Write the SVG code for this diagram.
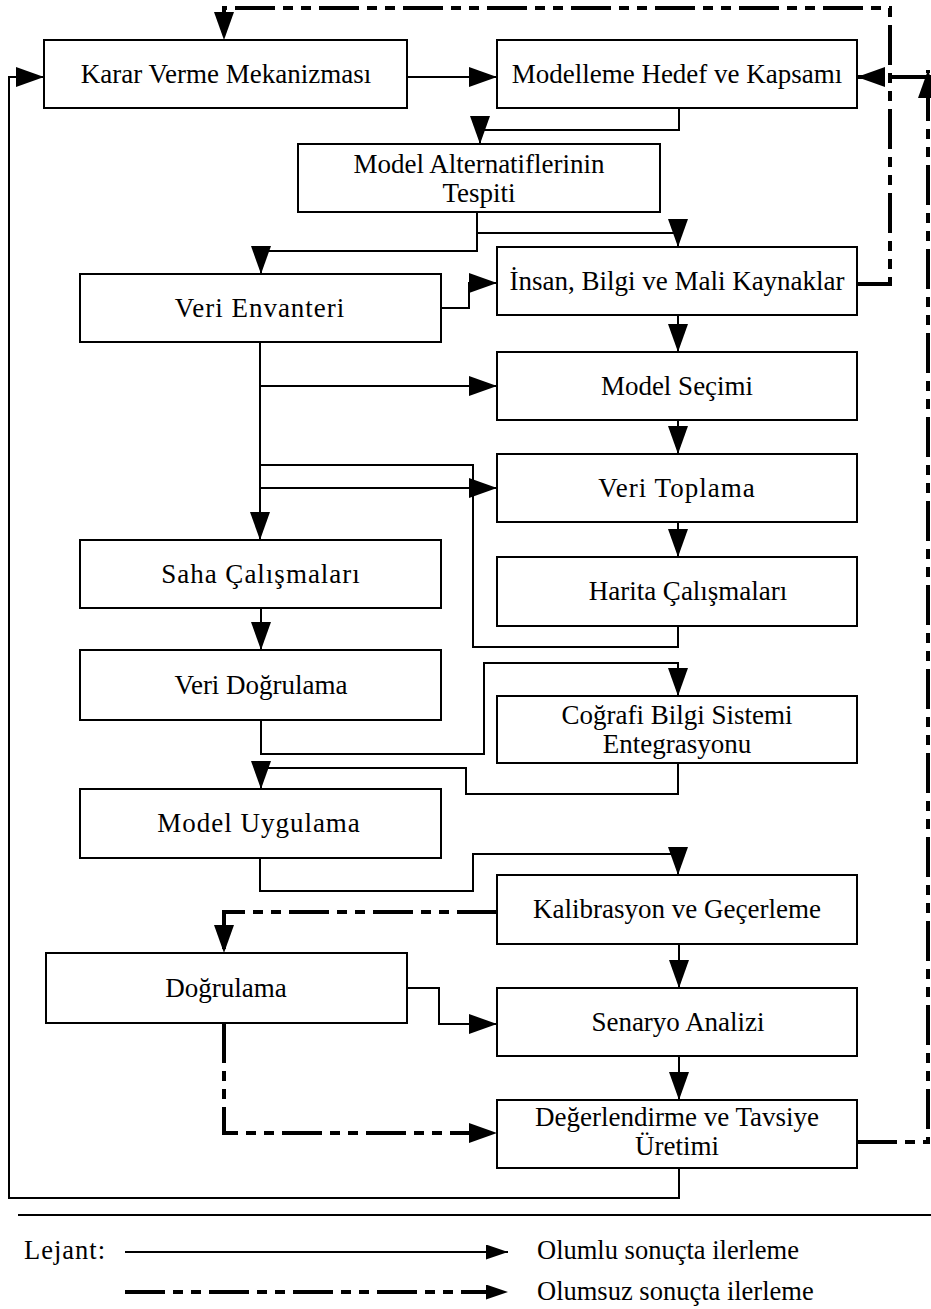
<svg xmlns="http://www.w3.org/2000/svg" width="931" height="1309" viewBox="0 0 931 1309">
<style>
.box{fill:#fff;stroke:#000;stroke-width:2}
.lbl{font-family:"Liberation Serif","Times New Roman",serif;font-size:27px;fill:#000;text-anchor:middle}
.leg{font-family:"Liberation Serif","Times New Roman",serif;font-size:26.5px;fill:#000}
.c{fill:none;stroke:#000;stroke-width:2}
.n{fill:none;stroke:#000;stroke-width:4;stroke-dasharray:40 8 10 8 10 8}
</style>
<defs>
<marker id="ah" markerUnits="userSpaceOnUse" viewBox="0 0 28 20" refX="28" refY="10" markerWidth="28" markerHeight="20" orient="auto">
<path d="M0,0 L28,10 L0,20 Z" fill="#000"/>
</marker>
<marker id="ahs" markerUnits="userSpaceOnUse" viewBox="0 0 22 15" refX="22" refY="7.5" markerWidth="22" markerHeight="15" orient="auto">
<path d="M0,0 L22,7.5 L0,15 Z" fill="#000"/>
</marker>
</defs>
<rect width="931" height="1309" fill="#fff"/>

<g id="n-karar"><rect class="box" x="44" y="40" width="363" height="68"/><text class="lbl" x="226" y="83">Karar Verme Mekanizması</text></g>
<g id="n-modelleme"><rect class="box" x="497" y="40" width="360" height="68"/><text class="lbl" x="677" y="83">Modelleme Hedef ve Kapsamı</text></g>
<g id="n-alternatif"><rect class="box" x="298" y="144" width="362" height="68"/><text class="lbl" x="479" y="173">Model Alternatiflerinin</text><text class="lbl" x="479" y="202">Tespiti</text></g>
<g id="n-insan"><rect class="box" x="497" y="247" width="360" height="68"/><text class="lbl" x="677" y="290">İnsan, Bilgi ve Mali Kaynaklar</text></g>
<g id="n-envanter"><rect class="box" x="80" y="274" width="361" height="68"/><text class="lbl" x="260" y="317" letter-spacing="1">Veri Envanteri</text></g>
<g id="n-secim"><rect class="box" x="497" y="352" width="360" height="68"/><text class="lbl" x="677" y="395">Model Seçimi</text></g>
<g id="n-toplama"><rect class="box" x="497" y="454" width="360" height="68"/><text class="lbl" x="677" y="497" letter-spacing="1">Veri Toplama</text></g>
<g id="n-saha"><rect class="box" x="80" y="540" width="361" height="68"/><text class="lbl" x="261" y="583" letter-spacing="1">Saha Çalışmaları</text></g>
<g id="n-harita"><rect class="box" x="497" y="557" width="360" height="69"/><text class="lbl" x="688" y="600">Harita Çalışmaları</text></g>
<g id="n-veridog"><rect class="box" x="80" y="650" width="361" height="70"/><text class="lbl" x="261" y="694">Veri Doğrulama</text></g>
<g id="n-cbs"><rect class="box" x="497" y="696" width="360" height="67"/><text class="lbl" x="677" y="724">Coğrafi Bilgi Sistemi</text><text class="lbl" x="677" y="753">Entegrasyonu</text></g>
<g id="n-uygulama"><rect class="box" x="80" y="789" width="361" height="69"/><text class="lbl" x="259" y="832" letter-spacing="1">Model Uygulama</text></g>
<g id="n-kalibrasyon"><rect class="box" x="497" y="875" width="360" height="69"/><text class="lbl" x="677" y="918">Kalibrasyon ve Geçerleme</text></g>
<g id="n-dogrulama"><rect class="box" x="46" y="953" width="361" height="70"/><text class="lbl" x="226" y="997">Doğrulama</text></g>
<g id="n-senaryo"><rect class="box" x="497" y="988" width="360" height="68"/><text class="lbl" x="678" y="1031">Senaryo Analizi</text></g>
<g id="n-degerlendirme"><rect class="box" x="497" y="1100" width="360" height="68"/><text class="lbl" x="677" y="1126">Değerlendirme ve Tavsiye</text><text class="lbl" x="677" y="1155">Üretimi</text></g>

<g id="connectors">
<path class="c" d="M407,77 H497" marker-end="url(#ah)"/>
<path class="c" d="M679,108 V130 H480 V144" marker-end="url(#ah)"/>
<path class="c" d="M477,212 V233 H678 V247" marker-end="url(#ah)"/>
<path class="c" d="M477,233 V251 H261 V274" marker-end="url(#ah)"/>
<path class="c" d="M441,308 H469 V283 H497" marker-end="url(#ah)"/>
<path class="c" d="M678,315 V352" marker-end="url(#ah)"/>
<path class="c" d="M260,342 V540" marker-end="url(#ah)"/>
<path class="c" d="M260,386 H497" marker-end="url(#ah)"/>
<path class="c" d="M260,488 H497" marker-end="url(#ah)"/>
<path class="c" d="M260,465 H473 V647 H678 V626"/>
<path class="c" d="M678,420 V454" marker-end="url(#ah)"/>
<path class="c" d="M678,522 V557" marker-end="url(#ah)"/>
<path class="c" d="M261,608 V650" marker-end="url(#ah)"/>
<path class="c" d="M261,720 V754 H484 V663 H678 V696" marker-end="url(#ah)"/>
<path class="c" d="M678,763 V794 H466 V768 H261 V789" marker-end="url(#ah)"/>
<path class="c" d="M260,858 V891 H473 V854 H678 V875" marker-end="url(#ah)"/>
<path class="c" d="M679,944 V988" marker-end="url(#ah)"/>
<path class="c" d="M407,988 H439 V1024 H497" marker-end="url(#ah)"/>
<path class="c" d="M679,1056 V1100" marker-end="url(#ah)"/>
<path class="c" d="M679,1168 V1198 H9 V77 H44" marker-end="url(#ah)"/>
<path class="n" d="M857,284 H890 V8 H224 V40" marker-end="url(#ah)"/>
<path class="n" d="M497,912 H224 V953" marker-end="url(#ah)"/>
<path class="n" d="M224,1023 V1133 H497" marker-end="url(#ah)"/>
<path class="n" d="M857,1142 H928 V70" marker-end="url(#ah)"/>
<path class="n" d="M931,77 H857" marker-end="url(#ah)"/>
</g>

<g id="legend">
<path class="c" d="M18,1215 H931"/>
<text class="leg" x="24" y="1259" letter-spacing="1">Lejant:</text>
<path class="c" d="M125,1252 H508" marker-end="url(#ahs)"/>
<text class="leg" x="537" y="1259">Olumlu sonuçta ilerleme</text>
<path class="n" d="M125,1292 H508" marker-end="url(#ahs)"/>
<text class="leg" x="537" y="1300">Olumsuz sonuçta ilerleme</text>
</g>
</svg>
